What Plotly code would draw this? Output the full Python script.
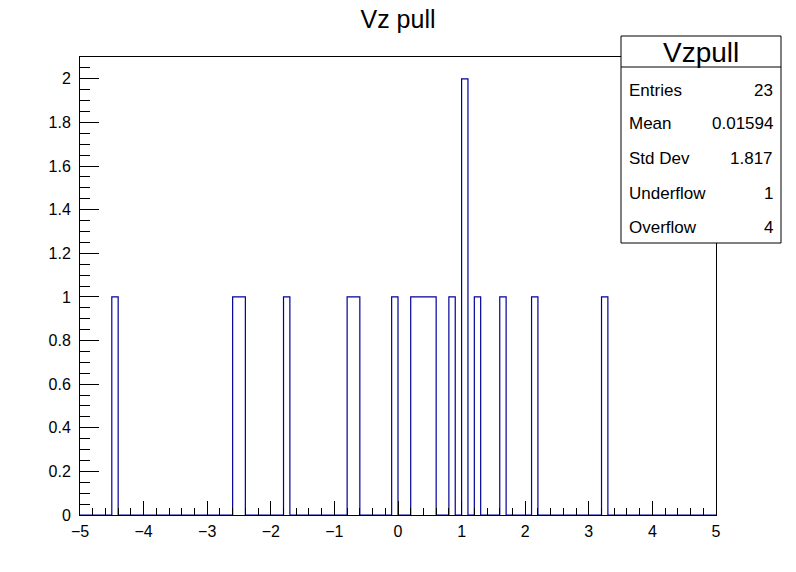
import numpy as np
import plotly.graph_objects as go

# Histogram definition (ROOT TH1: 100 bins from -5 to 5)
n_bins = 100
x_min, x_max = -5.0, 5.0
# Non-empty bins: lower edges and counts
filled_low_edges = [-4.5, -2.6, -2.5, -1.8, -0.8, -0.7, -0.1, 0.2, 0.3, 0.4, 0.5, 0.8, 1.0, 1.2, 1.6, 2.1, 3.2]
filled_counts =    [1,    1,    1,    1,    1,    1,    1,    1,   1,   1,   1,   1,   2,   1,   1,   1,   1]

title_text = "Vz pull"
stats_name = "Vzpull"
stats_labels = ["Entries", "Mean", "Std Dev", "Underflow", "Overflow"]
stats_values = ["23", "0.01594", "1.817", "1", "4"]

width_px, height_px = 796, 572
left, right, top, bottom = 80, 80, 57, 57

edges = np.linspace(x_min, x_max, n_bins + 1)
counts = np.zeros(n_bins)
bw = (x_max - x_min) / n_bins
for e, c in zip(filled_low_edges, filled_counts):
    idx = int(round((e - x_min) / bw))
    counts[idx] = c

xs = edges
ys = np.append(counts, counts[-1])

fig = go.Figure()
fig.add_trace(go.Scatter(
    x=xs, y=ys, mode="lines", line_shape="hv",
    line=dict(color="#000099", width=1.2), hoverinfo="skip", showlegend=False,
))

font_family = "Liberation Sans, Arial, sans-serif"
fig.update_layout(
    width=width_px, height=height_px,
    margin=dict(l=left, r=right, t=top, b=bottom),
    paper_bgcolor="white", plot_bgcolor="white",
    font=dict(family=font_family, color="black", size=16),
    title=dict(text=title_text, x=0.5, xanchor="center", y=1 - 19 / height_px,
               yanchor="middle", yref="container", font=dict(size=25, color="black")),
    showlegend=False,
)
fig.update_xaxes(
    range=[x_min, x_max], showgrid=False, zeroline=False,
    showline=True, linecolor="black", linewidth=1, mirror=True,
    ticks="inside", ticklen=14, tickcolor="black", tickwidth=1, dtick=1, tick0=0,
    minor=dict(dtick=0.2, ticks="inside", ticklen=7, tickcolor="black", tickwidth=1, showgrid=False),
    tickfont=dict(size=16), ticklabelstandoff=2,
)
fig.update_yaxes(
    range=[0, 2.1], showgrid=False, zeroline=False,
    showline=True, linecolor="black", linewidth=1, mirror=True,
    ticks="inside", ticklen=19, tickcolor="black", tickwidth=1, dtick=0.2, tick0=0,
    minor=dict(dtick=0.05, ticks="inside", ticklen=10, tickcolor="black", tickwidth=1, showgrid=False),
    tickfont=dict(size=16), ticklabelstandoff=5,
)

pw = width_px - left - right
ph = height_px - top - bottom
def px_x(p):
    return (p - left) / pw
def px_y(p):
    return (height_px - bottom - p) / ph

bx0, bx1, by0, by1, bdiv = 621, 781, 36, 243, 67
fig.add_shape(type="rect", xref="paper", yref="paper",
              x0=px_x(bx0), x1=px_x(bx1), y0=px_y(by1), y1=px_y(by0),
              line=dict(color="black", width=1), fillcolor="white", layer="above")
fig.add_shape(type="line", xref="paper", yref="paper",
              x0=px_x(bx0), x1=px_x(bx1), y0=px_y(bdiv), y1=px_y(bdiv),
              line=dict(color="black", width=1), layer="above")
fig.add_annotation(xref="paper", yref="paper", x=px_x((bx0 + bx1) / 2), y=px_y(52),
                   text=stats_name, showarrow=False, xanchor="center", yanchor="middle",
                   font=dict(size=28, color="black"))
row_y = [90, 124, 158, 193, 227]
for lab, val, ry in zip(stats_labels, stats_values, row_y):
    fig.add_annotation(xref="paper", yref="paper", x=px_x(627), y=px_y(ry), text=lab,
                       showarrow=False, xanchor="left", yanchor="middle",
                       font=dict(size=17, color="black"))
    fig.add_annotation(xref="paper", yref="paper", x=px_x(775), y=px_y(ry), text=val,
                       showarrow=False, xanchor="right", yanchor="middle",
                       font=dict(size=17, color="black"))

fig.write_html("out.html")
